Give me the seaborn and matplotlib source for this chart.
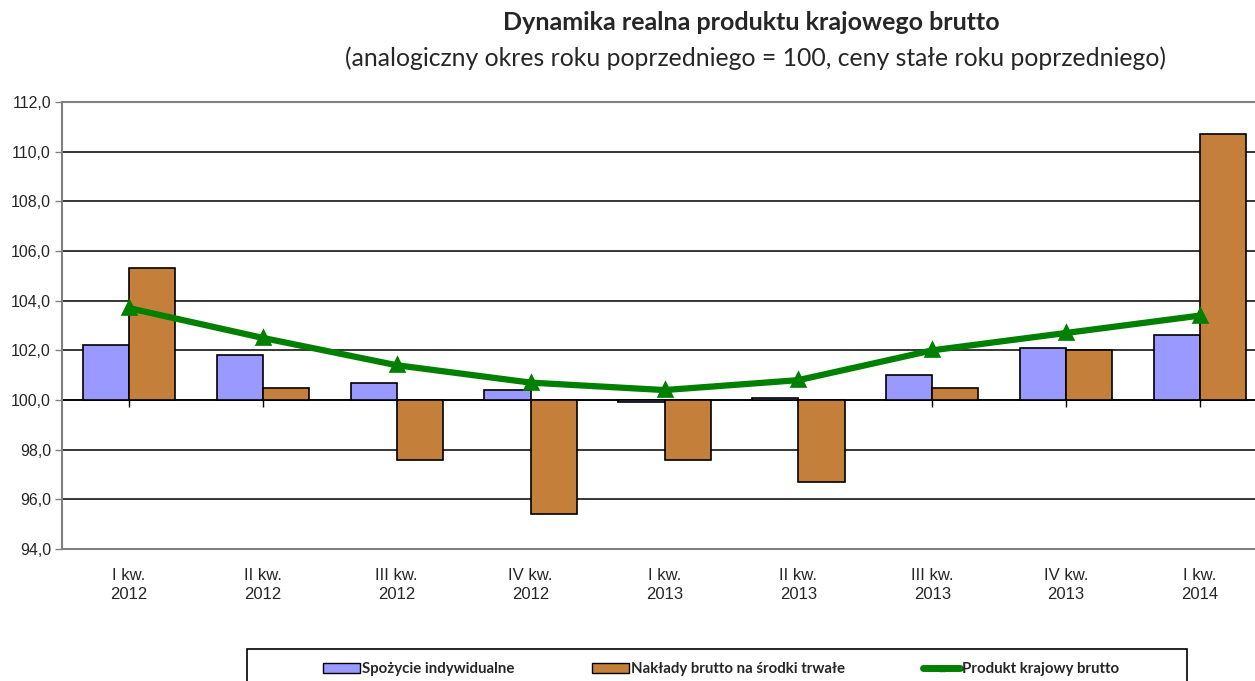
import numpy as np
import pandas as pd
import matplotlib
matplotlib.use("Agg")
import matplotlib.pyplot as plt
import seaborn as sns
from matplotlib.patches import Patch, Rectangle
from matplotlib.lines import Line2D
from matplotlib.ticker import FuncFormatter, MultipleLocator

categories = ["I kw.\n2012", "II kw.\n2012", "III kw.\n2012", "IV kw.\n2012",
              "I kw.\n2013", "II kw.\n2013", "III kw.\n2013", "IV kw.\n2013", "I kw.\n2014"]
spozycie = [102.2, 101.8, 100.7, 100.4, 99.9, 100.1, 101.0, 102.1, 102.6]
naklady = [105.3, 100.5, 97.6, 95.4, 97.6, 96.7, 100.5, 102.0, 110.7]
pkb = [103.7, 102.5, 101.4, 100.7, 100.4, 100.8, 102.0, 102.7, 103.4]
series_names = ["Spożycie indywidualne", "Nakłady brutto na środki trwałe", "Produkt krajowy brutto"]
baseline = 100.0

sns.set_theme(style="white")
plt.rcParams['font.family'] = ['Liberation Sans', 'DejaVu Sans']

df = pd.DataFrame({
    "kw": categories * 2,
    "val": [v - baseline for v in spozycie] + [v - baseline for v in naklady],
    "seria": [series_names[0]] * 9 + [series_names[1]] * 9,
})

fig = plt.figure(figsize=(12.55, 6.81), dpi=100)
ax = fig.add_axes([62 / 1255, 1 - 549 / 681, (1267 - 62) / 1255, (549 - 102) / 681])

bar_colors = ["#9999FF", "#C4803A"]
sns.barplot(data=df, x="kw", y="val", hue="seria", order=categories,
            hue_order=series_names[:2], palette=bar_colors, width=0.69,
            edgecolor="black", linewidth=1.2, saturation=1, ax=ax, legend=False,
            zorder=3)

line_df = pd.DataFrame({"kw": categories, "val": [v - baseline for v in pkb]})
sns.pointplot(data=line_df, x="kw", y="val", order=categories, color="#008000",
              markers="^", linestyles="-", linewidth=4.5, markersize=7.5, ax=ax,
              zorder=4)

ax.set_xlim(-0.5, 8.5)
ax.set_ylim(94 - baseline, 112 - baseline)
ax.yaxis.set_major_locator(MultipleLocator(2))
ax.yaxis.set_major_formatter(FuncFormatter(lambda v, p: f"{v + baseline:.1f}".replace(".", ",")))
ax.grid(axis="y", color="black", linewidth=1.1, zorder=0)
ax.set_axisbelow(True)
ax.set_xlabel("")
ax.set_ylabel("")

for s in ["left", "top", "bottom"]:
    ax.spines[s].set_color("#808080")
    ax.spines[s].set_linewidth(1.5)
ax.spines["right"].set_visible(False)

ax.tick_params(axis="y", which="major", length=5, width=1, color="#808080",
               labelsize=11.5, pad=3, direction="out", left=True)
ax.tick_params(axis="x", length=0, labelsize=12, pad=14)
for lbl in ax.get_xticklabels():
    lbl.set_linespacing(1.3)

# small category ticks on the 100 crossing line
sec = ax.secondary_xaxis((100 - 94) / 18)
sec.set_xticks(range(len(categories)))
sec.set_xticklabels([])
sec.tick_params(axis="x", length=5, width=1, color="black", direction="out")
sec.spines["bottom"].set_color("black")
sec.spines["bottom"].set_linewidth(1.2)

fig.text(0.599, 1 - 22 / 681, "Dynamika realna produktu krajowego brutto",
         ha="center", va="center", fontsize=18, fontweight="bold", family=["Lato", "DejaVu Sans"])
fig.text(0.6016, 1 - 58 / 681,
         "(analogiczny okres roku poprzedniego = 100, ceny stałe roku poprzedniego)",
         ha="center", va="center", fontsize=17.8, family=["Lato", "DejaVu Sans"])

handles = [
    Patch(facecolor=bar_colors[0], edgecolor="black", linewidth=1),
    Patch(facecolor=bar_colors[1], edgecolor="black", linewidth=1),
    Line2D([0], [0], color="#008000", linewidth=5, marker="^", markersize=5),
]
leg = fig.legend(handles, series_names, loc="center left",
                 bbox_to_anchor=(323 / 1255, 1 - 669 / 681), ncol=3, frameon=False,
                 prop={"family": ["Lato", "DejaVu Sans"], "weight": "bold", "size": 10.8},
                 handlelength=2.45, handleheight=0.7, handletextpad=0.15, columnspacing=5.2,
                 borderaxespad=0, borderpad=0)
fig.add_artist(Rectangle((247 / 1255, -0.05), 940 / 1255, (681 - 649) / 681 + 0.05,
                         transform=fig.transFigure, fill=False, edgecolor="black", linewidth=1.2))

fig.savefig("out.png", dpi=100)
